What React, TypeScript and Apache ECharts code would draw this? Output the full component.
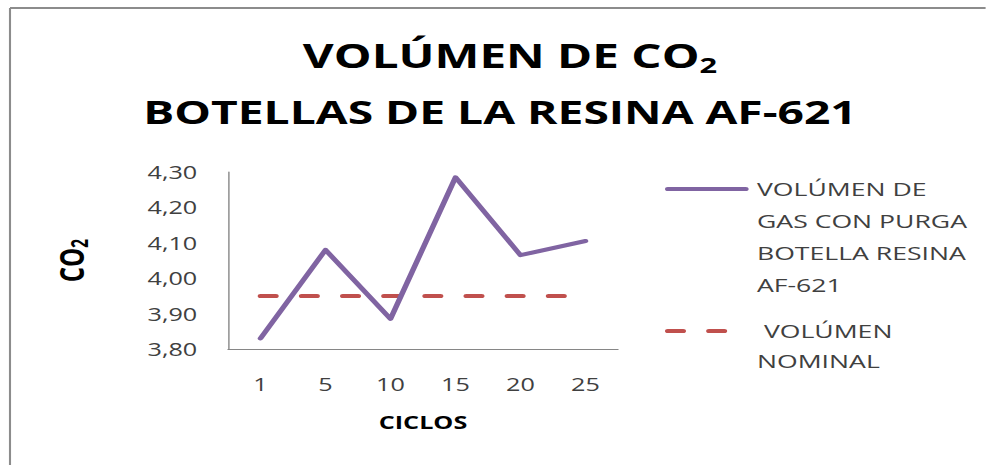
import React, { useEffect, useRef } from 'react';
import * as echarts from 'echarts';

// ---- data ----
const categories = ['1', '5', '10', '15', '20', '25'];
const gasPurgeValues = [3.83, 4.08, 3.885, 4.285, 4.065, 4.105];
const nominalValues = [3.95, 3.95, 3.95, 3.95, 3.95, 3.95];
const yMin = 3.8;
const yMax = 4.3;
const yStep = 0.1;
const seriesNames = ['VOLÚMEN DE\nGAS CON PURGA\nBOTELLA RESINA\nAF-621', ' VOLÚMEN\nNOMINAL'];
const titleLine1 = 'VOLÚMEN DE CO';
const titleLine2 = 'BOTELLAS DE LA RESINA AF-621';
const subscript = '2';
const xAxisTitle = 'CICLOS';
const yAxisTitle = 'CO';

// The reference picture is stretched horizontally; the chart is drawn in a
// narrower box and stretched back with a CSS transform.
const STRETCH = 1.4;
const PAGE_W = 986;
const PAGE_H = 465;
const W = PAGE_W / STRETCH;
const sx = (x: number) => x / STRETCH;

const FONT = "'Open Sans', 'Noto Sans', sans-serif";
const PURPLE = '#8064A2';
const RED = '#C0504D';
const TEXT = '#404040';
const AXIS = '#868686';

export default function App() {
  const ref = useRef<HTMLDivElement>(null);

  useEffect(() => {
    if (!ref.current) return;
    const chart = echarts.init(ref.current, undefined, { renderer: 'svg', width: W, height: PAGE_H });
    const L1 = 32;
    const L2 = 30;
    const legendCommon = {
      orient: 'vertical',
      left: sx(665),
      padding: 0,
      itemWidth: sx(78),
      itemHeight: 14,
      selectedMode: false,
      itemStyle: { opacity: 0, color: 'transparent', borderWidth: 0 },
      lineStyle: { width: 4 },
    };
    const option: any = {
      animation: false,
      backgroundColor: '#ffffff',
      textStyle: { fontFamily: FONT },
      grid: {
        left: sx(228),
        right: W - sx(618),
        top: 172,
        bottom: PAGE_H - 349,
        containLabel: false,
      },
      xAxis: {
        type: 'category',
        data: categories,
        boundaryGap: true,
        axisLine: { show: true, lineStyle: { color: AXIS, width: 1 } },
        axisTick: { show: false },
        splitLine: { show: false },
        axisLabel: { color: TEXT, fontSize: 18, fontFamily: FONT, margin: 26 },
        name: xAxisTitle,
        nameLocation: 'middle',
        nameGap: 64,
        nameTextStyle: { color: '#000000', fontSize: 18, fontWeight: 'bold', fontFamily: FONT },
      },
      yAxis: {
        type: 'value',
        min: yMin,
        max: yMax,
        interval: yStep,
        axisLine: { show: true, lineStyle: { color: AXIS, width: 1 } },
        axisTick: { show: false },
        splitLine: { show: false },
        axisLabel: {
          color: TEXT,
          fontSize: 18,
          fontFamily: FONT,
          margin: 22,
          formatter: (v: number) => v.toFixed(2).replace('.', ','),
        },
        name: '{a|' + yAxisTitle + '}{b|' + subscript + '}',
        nameLocation: 'middle',
        nameGap: 98,
        nameTextStyle: {
          color: '#000000',
          rich: {
            a: { fontSize: 24, fontWeight: 'bold', fontFamily: FONT, lineHeight: 28, color: '#000000' },
            b: { fontSize: 16, fontWeight: 'bold', fontFamily: FONT, lineHeight: 16, verticalAlign: 'bottom', color: '#000000' },
          },
        },
      },
      legend: [
        {
          ...legendCommon,
          top: 189 - 3.5 * L1,
          data: [seriesNames[0]],
          textStyle: { color: TEXT, fontSize: 19, fontFamily: FONT, lineHeight: L1, padding: [0, 0, 0, 3] },
          formatter: (name: string) => '\n\n\n' + name,
        },
        {
          ...legendCommon,
          top: 331 - 1.5 * L2,
          data: [seriesNames[1]],
          textStyle: { color: TEXT, fontSize: 19, fontFamily: FONT, lineHeight: L2, padding: [0, 0, 0, 3] },
          formatter: (name: string) => '\n' + name,
        },
      ],
      series: [
        {
          name: seriesNames[0],
          type: 'line',
          data: gasPurgeValues,
          symbol: 'none',
          showSymbol: false,
          lineStyle: { color: PURPLE, width: 4, cap: 'round', join: 'round' },
          itemStyle: { color: PURPLE },
          z: 3,
        },
        {
          name: seriesNames[1],
          type: 'line',
          data: nominalValues,
          symbol: 'none',
          showSymbol: false,
          lineStyle: { color: RED, width: 4, type: [11, 18.4], cap: 'round' },
          itemStyle: { color: RED },
          z: 2,
        },
      ],
      graphic: [
        {
          type: 'line',
          shape: { x1: sx(10), y1: 8, x2: W, y2: 8 },
          style: { stroke: '#8c8c8c', lineWidth: 2 },
          silent: true,
        },
        {
          type: 'line',
          shape: { x1: sx(10), y1: 8, x2: sx(10), y2: PAGE_H },
          style: { stroke: '#8c8c8c', lineWidth: 1.5 },
          silent: true,
        },
        {
          type: 'text',
          x: sx(510),
          y: 55,
          style: {
            text: '{a|' + titleLine1 + '}{b|' + subscript + '}',
            align: 'center',
            verticalAlign: 'middle',
            rich: {
              a: { fontSize: 34, fontWeight: 'bold', fontFamily: FONT, lineHeight: 40, fill: '#000000' },
              b: { fontSize: 22, fontWeight: 'bold', fontFamily: FONT, lineHeight: 22, verticalAlign: 'bottom', fill: '#000000' },
            },
          },
          silent: true,
        },
        {
          type: 'text',
          x: sx(500),
          y: 111,
          style: {
            text: titleLine2,
            align: 'center',
            verticalAlign: 'middle',
            fontSize: 33,
            fontWeight: 'bold',
            fontFamily: FONT,
            fill: '#000000',
          },
          silent: true,
        },
      ],
    };
    chart.setOption(option);
    return () => chart.dispose();
  }, []);

  return (
    <div
      style={{
        position: 'fixed',
        left: 0,
        top: 0,
        width: PAGE_W,
        height: PAGE_H,
        overflow: 'hidden',
        background: '#ffffff',
      }}
    >
      <div
        ref={ref}
        style={{
          width: W,
          height: PAGE_H,
          transform: `scaleX(${STRETCH})`,
          transformOrigin: '0 0',
        }}
      />
    </div>
  );
}
